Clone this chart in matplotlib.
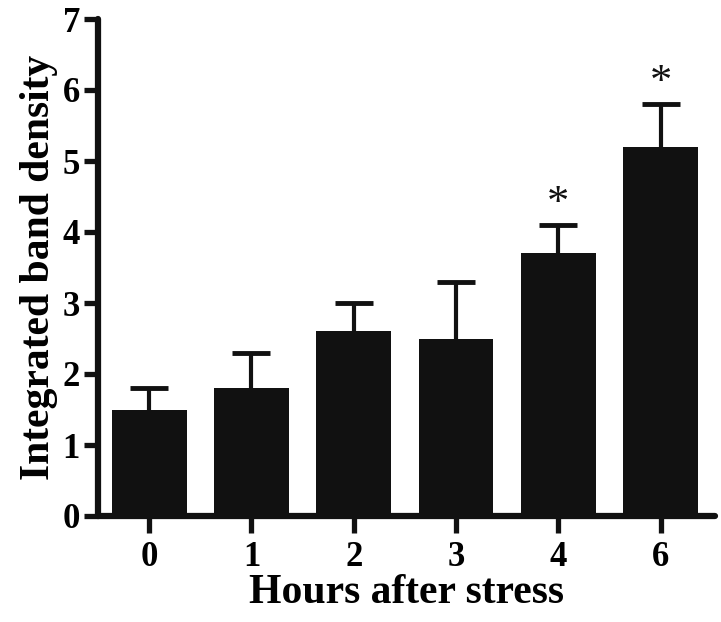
import matplotlib
matplotlib.use("Agg")
import matplotlib.pyplot as plt

categories = ["0", "1", "2", "3", "4", "6"]
means = [1.5, 1.8, 2.6, 2.5, 3.7, 5.2]
errors = [0.3, 0.5, 0.4, 0.8, 0.4, 0.6]
significant = [False, False, False, False, True, True]
yticks = [0, 1, 2, 3, 4, 5, 6, 7]

plt.rcParams['font.family'] = ['Liberation Serif', 'DejaVu Serif']
plt.rcParams['font.weight'] = 'bold'

fig = plt.figure(figsize=(7.21, 6.22), dpi=100)
ax = fig.add_axes([98/721, 1-516/622, (715-98)/721, (516-19)/622])

x = list(range(len(categories)))
col = '#111111'
ax.bar(x, means, width=0.73, color=col, zorder=2)
eb = ax.errorbar(x, means, yerr=[[0]*len(errors), errors], fmt='none', ecolor=col,
                 elinewidth=3, capsize=13.5, capthick=3.5, zorder=1)
caps = eb[1]
if len(caps) == 2:
    caps[0].set_visible(False)
for xi, m, e, s in zip(x, means, errors, significant):
    if s:
        ax.text(xi, m + e + 0.3, '*', ha='center', va='center', fontsize=32,
                fontweight='normal', color=col)

ax.set_xlim(-0.5, 5.53)
ax.set_ylim(0, 7)
ax.set_xticks(x)
ax.set_xticklabels(categories)
ax.set_yticks(yticks)
for sp in ['top', 'right']:
    ax.spines[sp].set_visible(False)
for sp in ['left', 'bottom']:
    ax.spines[sp].set_linewidth(4.5)
    ax.spines[sp].set_color(col)
    ax.spines[sp].set_capstyle('round')
ax.tick_params(axis='both', length=10, width=3.8, color=col, labelsize=25,
               direction='out', pad=3)
ax.tick_params(axis='x', length=12, pad=6)
for lab in ax.get_xticklabels() + ax.get_yticklabels():
    lab.set_fontweight('bold')

ax.set_xlabel('Hours after stress', fontsize=30, fontweight='bold', labelpad=0)
ax.set_ylabel('Integrated band density', fontsize=30, fontweight='bold', labelpad=3)

fig.savefig('out.png', dpi=100)
